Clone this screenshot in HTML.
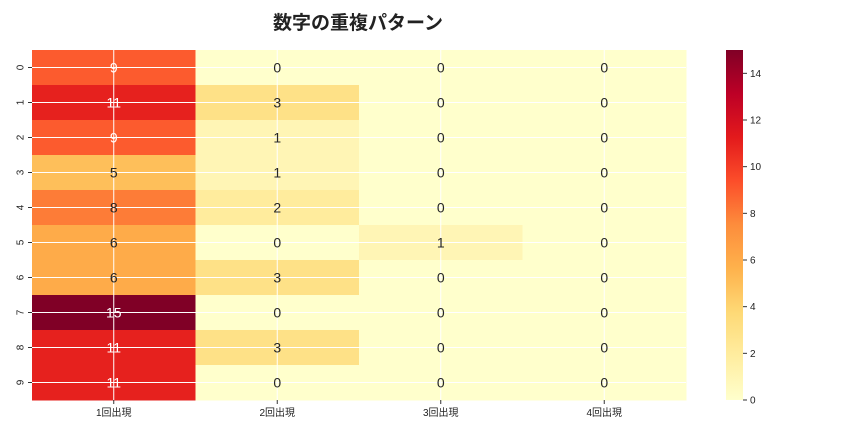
<!DOCTYPE html>
<html><head><meta charset="utf-8"><style>
body{margin:0;background:#fff;font-family:"Liberation Sans","Noto Sans CJK JP",sans-serif;}
</style></head><body>
<svg id="chart" width="864" height="432" xmlns="http://www.w3.org/2000/svg">
<defs><linearGradient id="cb" x1="0" y1="1" x2="0" y2="0">
<stop offset="0" stop-color="#ffffcc"/><stop offset="0.125" stop-color="#ffeda0"/><stop offset="0.25" stop-color="#fed976"/><stop offset="0.375" stop-color="#feb24c"/><stop offset="0.5" stop-color="#fd8d3c"/><stop offset="0.625" stop-color="#fc4e2a"/><stop offset="0.75" stop-color="#e31a1c"/><stop offset="0.875" stop-color="#bd0026"/><stop offset="1" stop-color="#800026"/></linearGradient></defs>
<text x="358" y="29" text-anchor="middle" font-size="19" font-weight="bold" fill="#222" font-family="'Liberation Sans','Noto Sans CJK JP',sans-serif">数字の重複パターン</text>
<g id="cells"></g><g id="grid"></g><g id="labels"></g><g id="axes"></g>
<rect x="726" y="50" width="17" height="350" fill="url(#cb)"/>
<g id="cbticks"></g>
</svg>
<script>
const rowLabels=["0","1","2","3","4","5","6","7","8","9"];
const colLabels=["1回出現","2回出現","3回出現","4回出現"];
const col1=[9,11,9,5,8,6,6,15,11,11];
const col2=[0,3,1,1,2,0,3,0,3,0];
const col3=[0,0,0,0,0,1,0,0,0,0];
const col4=[0,0,0,0,0,0,0,0,0,0];
const cbTicks=[0,2,4,6,8,10,12,14];
const vmin=0,vmax=15;
const X0=32,X1=686,Y0=50,Y1=400;
const cols=[col1,col2,col3,col4];
const cw=(X1-X0)/colLabels.length, rh=(Y1-Y0)/rowLabels.length;
const xPos=i=>X0+i*cw, yPos=j=>Y0+j*rh, cbY=v=>Y1-(v-vmin)/(vmax-vmin)*(Y1-Y0);
const stops=["#ffffcc","#ffeda0","#fed976","#feb24c","#fd8d3c","#fc4e2a","#e31a1c","#bd0026","#800026"].map(h=>[1,3,5].map(k=>parseInt(h.substr(k,2),16)));
function color(v){let t=(v-vmin)/(vmax-vmin)*(stops.length-1);let i=Math.min(Math.floor(t),stops.length-2);let f=t-i;
 const c=stops[i].map((a,k)=>Math.round(a+(stops[i+1][k]-a)*f));return {s:`rgb(${c})`,l:(0.299*c[0]+0.587*c[1]+0.114*c[2])};}
const NS="http://www.w3.org/2000/svg";
function mk(t,a,p,txt){const e=document.createElementNS(NS,t);for(const k in a)e.setAttribute(k,a[k]);if(txt!==undefined)e.textContent=txt;document.getElementById(p).appendChild(e);return e;}
cols.forEach((arr,i)=>arr.forEach((v,j)=>{
 const c=color(v);
 const r=mk('rect',{x:xPos(i),y:yPos(j),width:cw+0.5,height:rh+0.5,fill:c.s},'cells');
 
 
 const t=mk('text',{x:xPos(i)+cw/2,y:yPos(j)+rh/2+5,'text-anchor':'middle','font-size':14,fill:c.l<150?'#fff':'#262626'},'labels',String(v));
 
 
}));
colLabels.forEach((l,i)=>{const cx=xPos(i)+cw/2;
 const g=mk('line',{x1:cx,x2:cx,y1:Y0,y2:Y1,stroke:'#fff','stroke-width':1},'grid');
 
 
 mk('line',{x1:cx,x2:cx,y1:Y1,y2:Y1+4,stroke:'#333'},'axes');
 const t=mk('text',{x:cx,y:Y1+16,'text-anchor':'middle','font-size':10,fill:'#222'},'axes',l);
 
 
});
rowLabels.forEach((l,j)=>{const cy=yPos(j)+rh/2;
 const g=mk('line',{x1:X0,x2:X1,y1:cy,y2:cy,stroke:'#fff','stroke-width':1},'grid');
 
 
 mk('line',{x1:X0-4,x2:X0,y1:cy,y2:cy,stroke:'#333'},'axes');
 const t=mk('text',{x:21,y:cy,'text-anchor':'middle','font-size':10,fill:'#222',transform:`rotate(-90 21 ${cy})`,'dominant-baseline':'middle'},'axes',l);
 
 
});
cbTicks.forEach(v=>{const y=cbY(v);
 mk('line',{x1:743,x2:747,y1:y,y2:y,stroke:'#333'},'cbticks');
 const t=mk('text',{x:750,y:y+3.5,'font-size':10,fill:'#222'},'cbticks',String(v));
 
 
});
</script>
</body></html>
